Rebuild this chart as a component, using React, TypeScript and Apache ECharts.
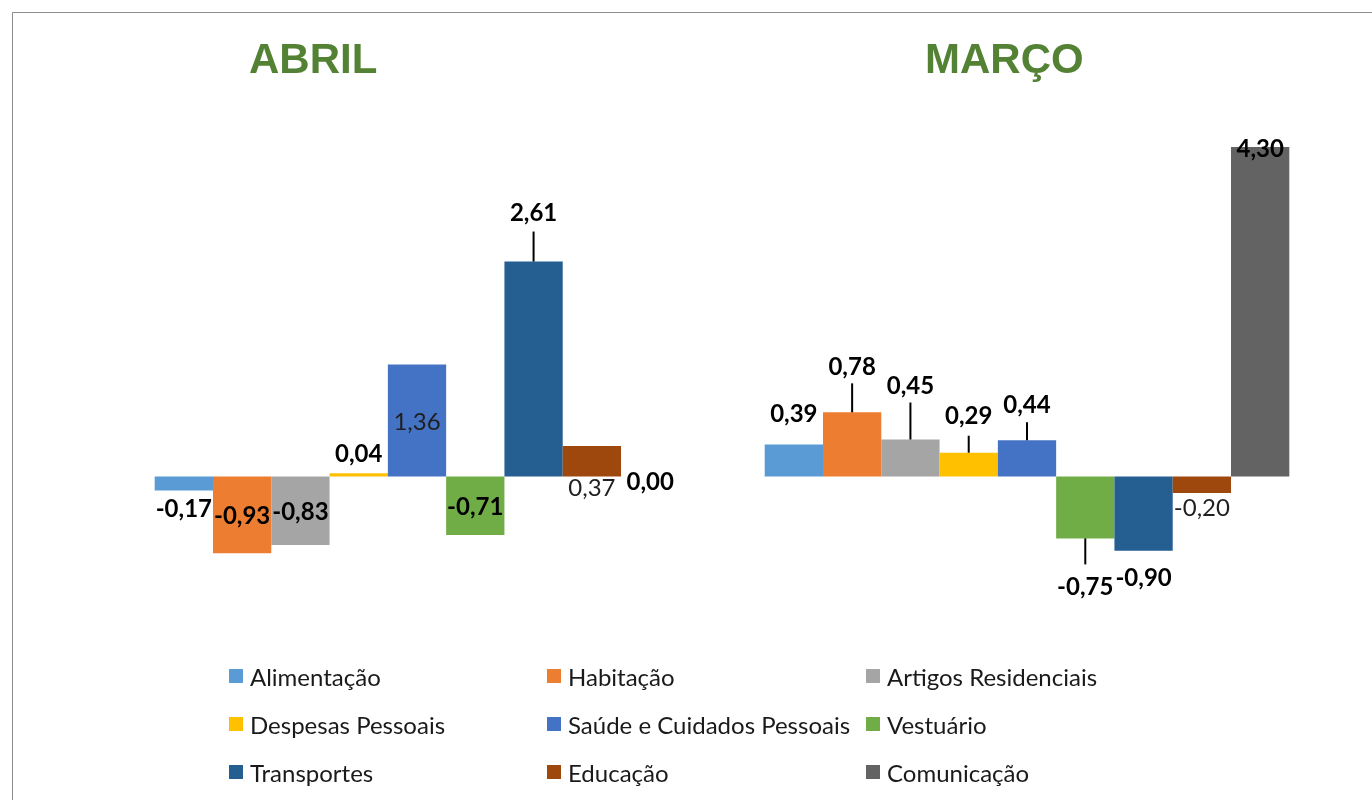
import React, { useEffect, useRef } from "react";
import * as echarts from "echarts";

const categories = ["ABRIL", "MARÇO"];
const seriesNames = [
  "Alimentação",
  "Habitação",
  "Artigos Residenciais",
  "Despesas Pessoais",
  "Saúde e Cuidados Pessoais",
  "Vestuário",
  "Transportes",
  "Educação",
  "Comunicação",
];
const abril = [-0.17, -0.93, -0.83, 0.04, 1.36, -0.71, 2.61, 0.37, 0.0];
const marco = [0.39, 0.78, 0.45, 0.29, 0.44, -0.75, -0.9, -0.2, 4.3];
const colors = ["#5B9BD5", "#ED7D31", "#A5A5A5", "#FFC000", "#4472C4", "#70AD47", "#255E91", "#9E480E", "#636363"];

type LS = { pos: string; dist?: number; bold?: boolean; lead?: number; gap?: number; off?: number };
const abrilLabels: LS[] = [
  { pos: "bottom", dist: 5, bold: true },
  { pos: "inside", bold: true },
  { pos: "inside", bold: true },
  { pos: "top", dist: 9, bold: true },
  { pos: "inside", bold: false },
  { pos: "inside", bold: true },
  { pos: "top", bold: true, lead: 30, gap: 8 },
  { pos: "bottom", dist: -2, bold: false },
  { pos: "inside", bold: true, off: 4 },
];
const marcoLabels: LS[] = [
  { pos: "top", dist: 20, bold: true },
  { pos: "top", bold: true, lead: 29, gap: 6 },
  { pos: "top", bold: true, lead: 37, gap: 6 },
  { pos: "top", bold: true, lead: 17, gap: 9 },
  { pos: "top", bold: true, lead: 18, gap: 7 },
  { pos: "bottom", bold: true, lead: 26, gap: 9 },
  { pos: "bottom", dist: 14, bold: true },
  { pos: "bottom", dist: 1, bold: false },
  { pos: "insideTop", dist: 0, bold: true, off: -12 },
];

const FONT = "Lato";

function fmt(v: number) {
  return v.toFixed(2).replace(".", ",");
}

function makeLabel(v: number, s: LS) {
  const key = s.bold ? "b" : "n";
  let formatter = `{${key}|${fmt(v)}}`;
  if (s.lead) {
    if (s.pos === "top") formatter = `{${key}|${fmt(v)}}\n{g${s.gap}|}\n{l${s.lead}|}`;
    else formatter = `{l${s.lead}|}\n{g${s.gap}|}\n{${key}|${fmt(v)}}`;
  }
  const rich: any = {
    b: { fontFamily: FONT, fontSize: 24, fontWeight: "bold", color: "#000", lineHeight: 24 },
    n: { fontFamily: FONT, fontSize: 24, fontWeight: "normal", color: "#1f1f1f", lineHeight: 24 },
  };
  if (s.lead) {
    rich["l" + s.lead] = { width: 2, height: s.lead, backgroundColor: "#000", align: "center" };
    rich["g" + s.gap] = { height: s.gap, align: "center" };
  }
  return {
    show: true,
    position: s.pos,
    distance: s.dist ?? 0,
    offset: [0, s.off ?? 0],
    formatter,
    rich,
    align: "center",
  };
}

export default function App() {
  const ref = useRef<HTMLDivElement>(null);
  useEffect(() => {
    document.body.style.margin = "0";
    const chart = echarts.init(ref.current!, undefined, { renderer: "svg" });
    const series = seriesNames.map((name, i) => ({
      name,
      type: "bar",
      barGap: "0%",
      barCategoryGap: "14%",
      itemStyle: { color: colors[i] },
      data: [
        { value: abril[i], label: makeLabel(abril[i], abrilLabels[i]) },
        { value: marco[i], label: makeLabel(marco[i], marcoLabels[i]) },
      ],
    }));
    const legendTextStyle = { fontFamily: FONT, fontSize: 24, color: "#1a1a1a", padding: [0, 0, 0, 2] };
    const legendCommon = {
      orient: "vertical",
      top: 664,
      padding: 0,
      itemWidth: 14,
      itemHeight: 14,
      itemGap: 24,
      icon: "rect",
      textStyle: legendTextStyle,
      selectedMode: false,
    };
    chart.setOption({
      animation: false,
      color: colors,
      grid: { left: 112, right: 40, top: 147, bottom: 241 },
      xAxis: {
        type: "category",
        data: categories,
        axisLine: { show: false },
        axisTick: { show: false },
        axisLabel: { show: false },
      },
      yAxis: {
        type: "value",
        min: -1,
        max: 4,
        interval: 1,
        show: false,
        splitLine: { show: false },
      },
      legend: [
        { ...legendCommon, left: 229, data: [seriesNames[0], seriesNames[3], seriesNames[6]] },
        { ...legendCommon, left: 547, data: [seriesNames[1], seriesNames[4], seriesNames[7]] },
        { ...legendCommon, left: 866, data: [seriesNames[2], seriesNames[5], seriesNames[8]] },
      ],
      graphic: [
        {
          type: "rect",
          shape: { x: 12.5, y: 12.5, width: 1400, height: 900 },
          style: { fill: "none", stroke: "#8c8c8c", lineWidth: 1 },
          silent: true,
        },
        {
          type: "text",
          left: 249,
          top: 37,
          style: { text: "ABRIL", fontFamily: "Liberation Sans", fontWeight: "bold", fontSize: 42, fill: "#548235" },
        },
        {
          type: "text",
          left: 925,
          top: 37,
          style: { text: "MARÇO", fontFamily: "Liberation Sans", fontWeight: "bold", fontSize: 42, fill: "#548235" },
        },
      ],
      series,
    });
    return () => chart.dispose();
  }, []);
  return <div ref={ref} style={{ position: "fixed", left: 0, top: 0, width: 1372, height: 800 }} />;
}
